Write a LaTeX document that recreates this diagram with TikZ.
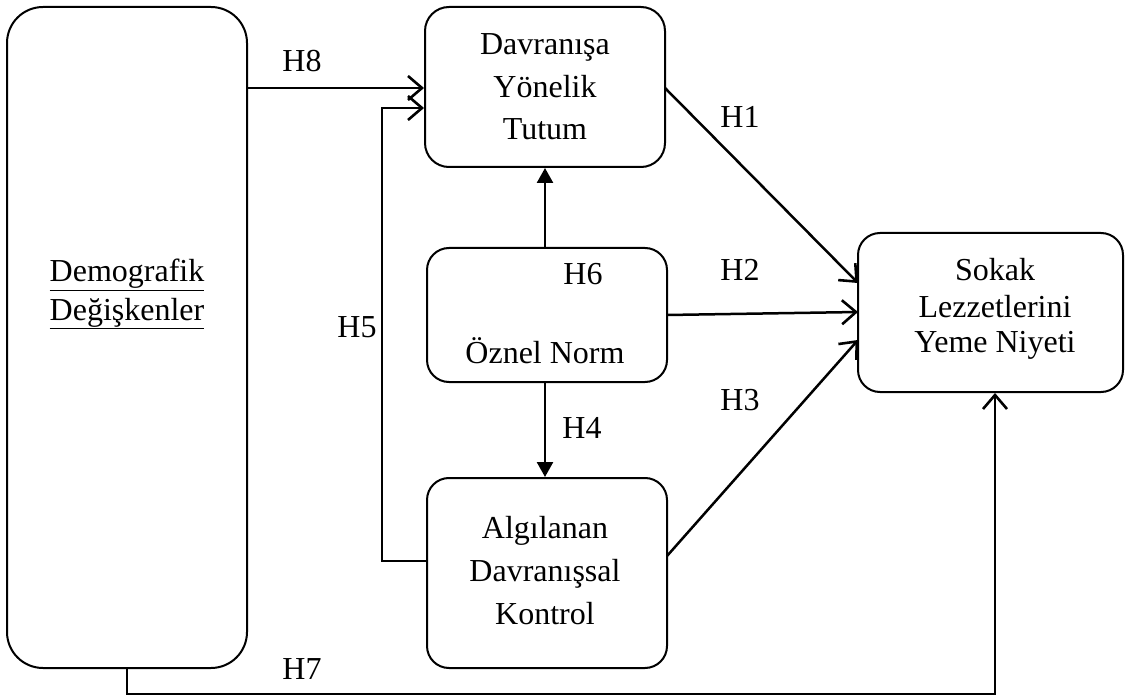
\documentclass[tikz,border=0pt]{standalone}
\usepackage{fontspec}
\setmainfont{Liberation Serif}
\usetikzlibrary{arrows.meta}
\begin{document}
\begin{tikzpicture}[x=1pt,y=-1pt,
  box/.style={draw, line width=2pt, inner sep=0pt, rounded corners=24pt},
  txt/.style={font=\fontsize{32}{38}\selectfont, inner sep=0pt, anchor=base},
  thickline/.style={line width=2.5pt},
  thinline/.style={line width=1.3pt},
  openarrow/.style={-{Straight Barb[length=14pt,width=24pt,line width=2.6pt]}},
  fillarrow/.style={-{Triangle[length=15pt,width=16pt]}}]
\useasboundingbox (0,0) rectangle (1125,695);
% boxes
\node[box, rounded corners=36pt, minimum width=240pt, minimum height=661pt] (dem) at (127,337.5) {};
\node[box, minimum width=240pt, minimum height=160pt] (att) at (545,87) {};
\node[box, rounded corners=22pt, minimum width=240pt, minimum height=134pt] (sn) at (547,315) {};
\node[box, rounded corners=22pt, minimum width=240pt, minimum height=190pt] (pbc) at (547,573) {};
\node[box, rounded corners=22pt, minimum width=265pt, minimum height=159pt] (int) at (990.5,312.5) {};
% texts
\node[txt] (d1) at (127,282) {\underline{Demografik}};
\node[txt] (d2) at (127,320) {\underline{Değişkenler}};
\node[txt] (a1) at (545,55) {Davranışa};
\node[txt] (a2) at (545,98) {Yönelik};
\node[txt] (a3) at (545,140) {Tutum};
\node[txt] (s1) at (545,363) {Öznel Norm};
\node[txt] (p1) at (545,538) {Algılanan};
\node[txt] (p2) at (545,581) {Davranışsal};
\node[txt] (p3) at (545,624) {Kontrol};
\node[txt] (i1) at (995,280) {Sokak};
\node[txt] (i2) at (995,317) {Lezzetlerini};
\node[txt] (i3) at (995,352) {Yeme Niyeti};
% hypothesis labels
\node[txt] (h1) at (740,128) {H1};
\node[txt] (h2) at (740,280) {H2};
\node[txt] (h3) at (740,410) {H3};
\node[txt] (h4) at (582,438) {H4};
\node[txt] (h5) at (357,337) {H5};
\node[txt] (h6) at (583,284) {H6};
\node[txt] (h7) at (302,679) {H7};
\node[txt] (h8) at (302,72) {H8};
% helper coordinates
\coordinate (y88) at (0,88);
\coordinate (y108) at (0,108);
\coordinate (y561) at (0,561);
\coordinate (c5) at (382,561);
\coordinate (c7a) at (127,694);
\coordinate (c7b) at (995,694);
% connectors
\draw[thickline, openarrow] (dem.east |- y88) -- (att.west |- y88);
\draw[thinline, openarrow] (pbc.west |- y561) -- (c5) |- (att.west |- y108);
\draw[thickline, fillarrow] (sn.north -| att.south) -- (att.south);
\draw[thickline, fillarrow] (sn.south -| att.south) -- (pbc.north -| att.south);
\draw[thickline, openarrow] (665,88) -- (858,283);
\draw[thickline, openarrow] (667,315) -- (858,312);
\draw[thickline, openarrow] (667,556) -- (858,340);
\draw[thinline, openarrow] (dem.south -| c7a) -- (c7a) -- (c7b) -- (int.south -| c7b);
\end{tikzpicture}
\end{document}
